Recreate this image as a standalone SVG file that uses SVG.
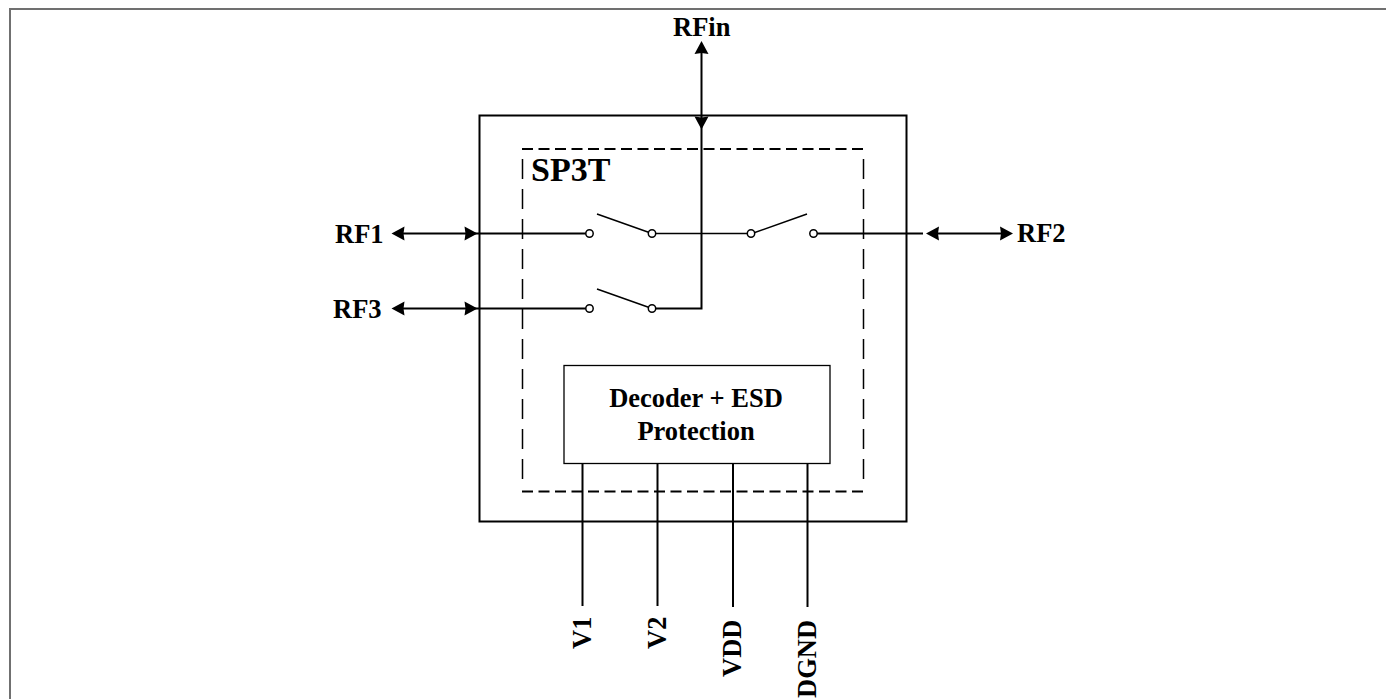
<svg xmlns="http://www.w3.org/2000/svg" width="1386" height="699" viewBox="0 0 1386 699">
<style>
text{font-family:"Liberation Serif","Times New Roman",serif;font-weight:bold;fill:#000;font-size:26.500px}
.l{fill:none;stroke:#000;stroke-width:2}
.t{fill:none;stroke:#000;stroke-width:1.500}
.h{fill:none;stroke:#000;stroke-width:2;stroke-dasharray:11 5.500}
.v{fill:none;stroke:#000;stroke-width:1.500;stroke-dasharray:20 10}
.c{fill:#fff;stroke:#000;stroke-width:1.500}
.a{fill:#000}
</style>
<defs>
<polygon id="ah" points="0,0 -13,-7 -12,0 -13,7"/>
</defs>
<rect width="1386" height="699" fill="#fff"/>
<path d="M10 699V9H1386" fill="none" stroke="#707070" stroke-width="2"/>
<g id="package"><rect x="479.500" y="115.500" width="427" height="406" fill="none" stroke="#000" stroke-width="2"/></g>
<g id="sp3t">
<path class="h" d="M522 149H864M522 491.500H864"/>
<path class="v" d="M522.500 159V482M863.500 159V482"/>
<text x="531" y="180.500" style="font-size:34px">SP3T</text>
</g>
<g id="decoder"><rect x="564" y="365.500" width="266" height="98" fill="#fff" stroke="#000" stroke-width="1.300"/><text x="696" y="407" text-anchor="middle">Decoder + ESD</text><text x="696" y="439.500" text-anchor="middle">Protection</text></g>
<g id="connectors">
<path class="l" d="M701.500 50V308.500H652"/>
<path class="l" d="M400 233.500H589M400 308.500H589M813 233.500H923M936 233.500H1003"/>
<path d="M652 233.500H752" fill="none" stroke="#000" stroke-width="1.300"/>
<path class="t" d="M597 214L652 233.500M597 289L652 308.500M752 233.500L807 214"/>
<path class="l" d="M582.500 464V606M657.500 464V606M733 464V607M807.500 464V607"/>
<use href="#ah" class="a" transform="translate(701.500 41) rotate(-90)"/>
<use href="#ah" class="a" transform="translate(701.500 129.500) rotate(90)"/>
<use href="#ah" class="a" transform="translate(391.500 233.500) rotate(180)"/>
<use href="#ah" class="a" transform="translate(477.500 233.500)"/>
<use href="#ah" class="a" transform="translate(391.500 308.500) rotate(180)"/>
<use href="#ah" class="a" transform="translate(477.500 308.500)"/>
<use href="#ah" class="a" transform="translate(926 233.500) rotate(180)"/>
<use href="#ah" class="a" transform="translate(1013 233.500)"/>
<circle class="c" cx="589.500" cy="233.500" r="3.700"/><circle class="c" cx="652" cy="233.500" r="3.700"/>
<circle class="c" cx="751" cy="233.500" r="3.700"/><circle class="c" cx="813.500" cy="233.500" r="3.700"/>
<circle class="c" cx="589.500" cy="308.500" r="3.700"/><circle class="c" cx="652" cy="308.500" r="3.700"/>
</g>
<g id="labels">
<text x="673" y="36">RFin</text>
<text x="335" y="243">RF1</text>
<text x="333" y="317.500">RF3</text>
<text x="1017" y="242">RF2</text>
<text transform="translate(591 649) rotate(-90)">V1</text>
<text transform="translate(666 649) rotate(-90)">V2</text>
<text transform="translate(741 677) rotate(-90)">VDD</text>
<text transform="translate(816 698) rotate(-90)">DGND</text>
</g>
</svg>
